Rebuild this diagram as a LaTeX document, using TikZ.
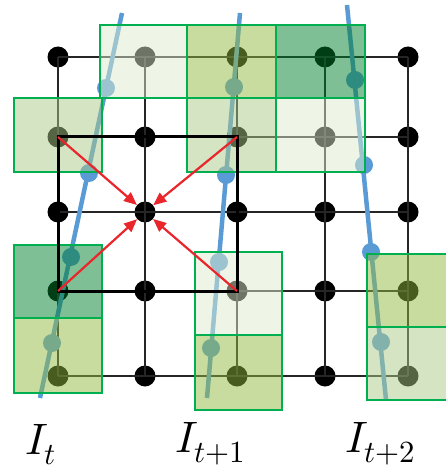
\documentclass[tikz,border=0pt]{standalone}
\usepackage{unicode-math}
\usetikzlibrary{arrows.meta}
\definecolor{patchgreen}{HTML}{00B050}
\definecolor{lineblue}{HTML}{5B9BD5}
\definecolor{boxVL}{RGB}{221,235,205}
\definecolor{boxLO}{RGB}{171,201,135}
\definecolor{boxO}{RGB}{145,185,65}
\definecolor{boxDG}{RGB}{0,127,43}
\definecolor{arrowred}{HTML}{E8262C}
\begin{document}
\begin{tikzpicture}[x=1pt,y=-1pt,
  dot/.style={circle,fill=black,inner sep=0pt,minimum size=21pt},
  gridline/.style={line width=1.2pt,black!85},
  track/.style={lineblue,line width=4.5pt},
  trackdot/.style={circle,fill=lineblue,inner sep=0pt,minimum size=18pt},
  patch/.style={draw=patchgreen,line width=2pt,fill opacity=0.5},
  focus/.style={line width=3pt,black},
  flow/.style={arrowred,line width=2.2pt,-{Triangle[length=13pt,width=11pt]}},
  lbl/.style={font=\fontsize{44}{52}\selectfont,anchor=base west,inner sep=0pt}
]
\useasboundingbox (0,0) rectangle (446,473);
\clip (0,0) rectangle (446,473);
% grid dots
\foreach \c/\x in {1/58,2/145,3/237,4/325,5/408}
  \foreach \r/\y in {1/57,2/137,3/212,4/291,5/376}
    \node[dot] (g\c\r) at (\x,\y) {};
% grid lines
\foreach \r in {1,...,5}
  \draw[gridline] (g1\r.center) -- (g5\r.center);
\foreach \c in {1,...,5}
  \draw[gridline] (g\c1.center) -- (g\c5.center);
% tracks
\coordinate (a0) at (122,13); \coordinate (a5) at (40,398);
\coordinate (b0) at (240,13); \coordinate (b5) at (207,398);
\coordinate (c0) at (347,5);  \coordinate (c5) at (386,400);
\draw[track] (a0) -- (a5);
\draw[track] (b0) -- (b5);
\draw[track] (c0) -- (c5);
\node[trackdot] (a1) at (106,88) {};
\node[trackdot] (a2) at (89,173) {};
\node[trackdot] (a3) at (71,257) {};
\node[trackdot] (a4) at (52,343) {};
\node[trackdot] (b1) at (234,87) {};
\node[trackdot] (b2) at (226,175) {};
\node[trackdot] (b3) at (219,262) {};
\node[trackdot] (b4) at (211,348) {};
\node[trackdot] (c1) at (355,80) {};
\node[trackdot] (c2) at (364,165) {};
\node[trackdot] (c3) at (371,252) {};
\node[trackdot] (c4) at (381,342) {};
% patches
\draw[patch,fill=boxVL] (100,25) rectangle (187,98);
\draw[patch,fill=boxO]  (187,25) rectangle (276,98);
\draw[patch,fill=boxDG] (276,25) rectangle (365,98);
\draw[patch,fill=boxLO] (14,98) rectangle (102,172);
\draw[patch,fill=boxLO] (187,98) rectangle (276,172);
\draw[patch,fill=boxVL] (276,98) rectangle (365,172);
\draw[patch,fill=boxDG] (14,245) rectangle (102,318);
\draw[patch,fill=boxO]  (14,318) rectangle (102,393);
\draw[patch,fill=boxVL] (195,252) rectangle (282,335);
\draw[patch,fill=boxO]  (195,335) rectangle (282,410);
\draw[patch,fill=boxO]  (367,254) rectangle (460,327);
\draw[patch,fill=boxLO] (367,327) rectangle (460,400);
% focus window
\draw[focus] (g12.center) -- (g32.center) -- (g34.center) -- (g14.center) -- cycle;
% flow arrows
\draw[flow] (g12.center) -- (g23);
\draw[flow] (g32.center) -- (g23);
\draw[flow] (g14.center) -- (g23);
\draw[flow] (g34.center) -- (g23);
% labels
\node[lbl] (l1) at (25,454) {$I_t$};
\node[lbl] (l2) at (175,452) {$I_{t+1}$};
\node[lbl] (l3) at (345,452) {$I_{t+2}$};
\end{tikzpicture}
\end{document}
